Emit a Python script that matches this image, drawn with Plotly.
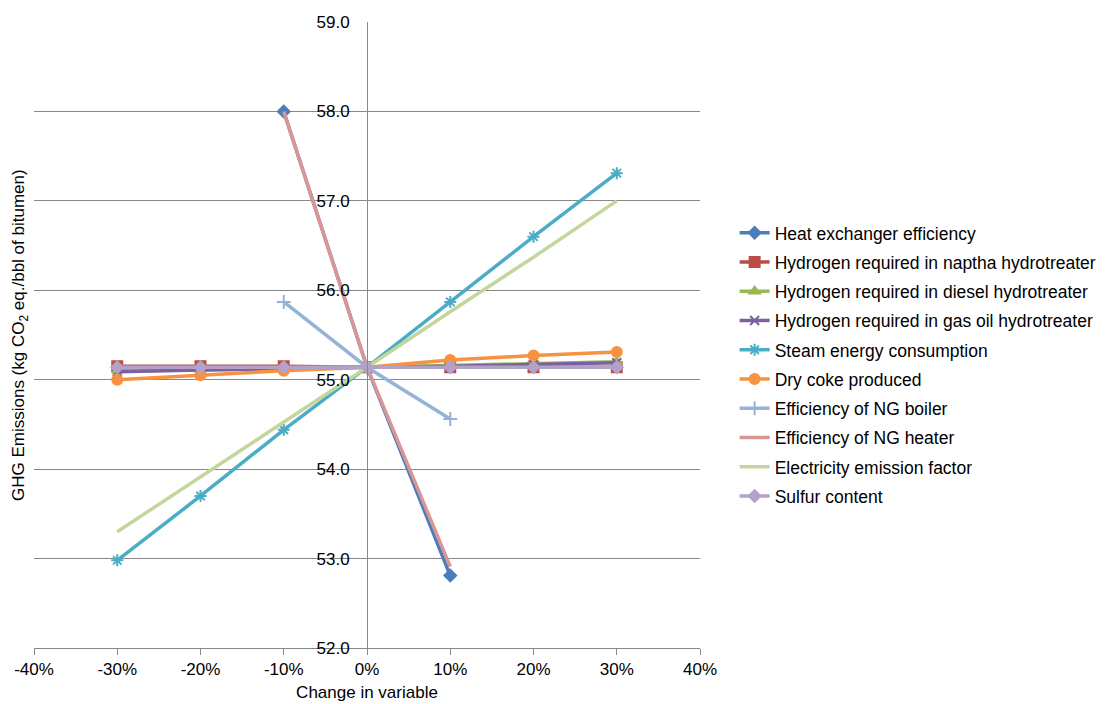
import plotly.graph_objects as go

change_full = [-0.3, -0.2, -0.1, 0.0, 0.1, 0.2, 0.3]
change_short = [-0.1, 0.0, 0.1]

heat_exchanger = [58.00, 55.14, 52.81]
h2_naptha = [55.15, 55.15, 55.15, 55.14, 55.14, 55.14, 55.14]
h2_diesel = [55.10, 55.11, 55.13, 55.14, 55.16, 55.18, 55.20]
h2_gasoil = [55.09, 55.11, 55.12, 55.14, 55.15, 55.17, 55.19]
steam = [52.98, 53.70, 54.44, 55.14, 55.87, 56.60, 57.31]
dry_coke = [55.00, 55.05, 55.10, 55.14, 55.22, 55.27, 55.31]
ng_boiler = [55.87, 55.14, 54.56]
ng_heater = [58.00, 55.14, 52.91]
electricity = [53.30, 53.91, 54.53, 55.14, 55.76, 56.37, 57.00]
sulfur = [55.14, 55.14, 55.14, 55.14, 55.14, 55.14, 55.14]

x_tickvals = [-0.4, -0.3, -0.2, -0.1, 0.0, 0.1, 0.2, 0.3, 0.4]
x_ticktext = ["-40%", "-30%", "-20%", "-10%", "0%", "10%", "20%", "30%", "40%"]
y_tickvals = [52, 53, 54, 55, 56, 57, 58, 59]
y_ticktext = ["52.0", "53.0", "54.0", "55.0", "56.0", "57.0", "58.0", "59.0"]

series = [
    ("Heat exchanger efficiency", change_short, heat_exchanger, "#4A7EBB", "diamond", 9),
    ("Hydrogen required in naptha hydrotreater", change_full, h2_naptha, "#BE4B48", "square", 10),
    ("Hydrogen required in diesel hydrotreater", change_full, h2_diesel, "#98B954", "triangle-up", 9),
    ("Hydrogen required in gas oil hydrotreater", change_full, h2_gasoil, "#7D60A0", "x-thin-open", 9),
    ("Steam energy consumption", change_full, steam, "#4BACC6", "asterisk-open", 10),
    ("Dry coke produced", change_full, dry_coke, "#F69240", "circle", 10),
    ("Efficiency of NG boiler", change_short, ng_boiler, "#95B3D7", "cross-thin-open", 10),
    ("Efficiency of NG heater", change_short, ng_heater, "#D99694", None, 0),
    ("Electricity emission factor", change_full, electricity, "#C3D69B", None, 0),
    ("Sulfur content", change_full, sulfur, "#B3A2C7", "diamond", 9),
]

fig = go.Figure()
for i, (name, xs, ys, color, sym, size) in enumerate(series):
    if sym is None:
        mode = "lines"
        marker = dict()
    else:
        mode = "lines+markers"
        marker = dict(symbol=sym, size=size, color=color, line=dict(color=color, width=2))
    fig.add_trace(go.Scatter(
        x=xs, y=ys, name=name, mode=mode,
        line=dict(color=color, width=3.5),
        marker=marker, legendgroup=f"g{i}",
    ))

fig.update_layout(
    width=1102, height=696,
    margin=dict(l=26, r=410, t=14, b=56, autoexpand=False),
    plot_bgcolor="white", paper_bgcolor="white",
    font=dict(family="Liberation Sans, Arial, sans-serif", size=17, color="black"),
    showlegend=True,
    legend=dict(
        x=1.052, y=0.692, xanchor="left", yanchor="top",
        font=dict(size=17.5), traceorder="grouped", tracegroupgap=3.5,
        itemwidth=30,
    ),
    xaxis=dict(
        range=[-0.4, 0.4], tickvals=x_tickvals, ticktext=x_ticktext,
        showgrid=False, zeroline=False, showline=True, linecolor="#888888", linewidth=1,
        ticks="outside", ticklen=6, tickcolor="#888888", automargin=False,
        tickfont=dict(size=17),
        title=dict(text="Change in variable", font=dict(size=17), standoff=7),
    ),
    yaxis=dict(
        range=[52, 59], tickvals=y_tickvals, ticktext=y_ticktext,
        anchor="free", position=0.5, automargin=False,
        showgrid=True, gridcolor="#888888", gridwidth=1,
        zeroline=False, showline=True, linecolor="#888888", linewidth=1,
        ticks="outside", ticklen=14, tickcolor="rgba(0,0,0,0)", tickfont=dict(size=17),
    ),
    annotations=[dict(
        text="GHG Emissions (kg CO<sub>2</sub> eq./bbl of bitumen)",
        xref="paper", yref="paper", x=-0.021, y=0.5,
        xanchor="center", yanchor="middle", textangle=-90, showarrow=False,
        font=dict(size=17),
    )],
)

fig.write_html("out.html")
